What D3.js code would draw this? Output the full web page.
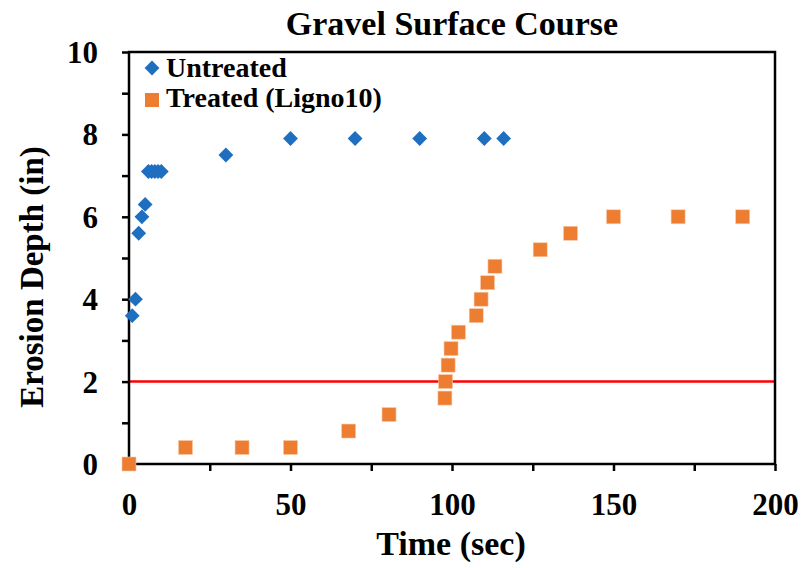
<!DOCTYPE html>
<html><head><meta charset="utf-8">
<script src="https://cdn.jsdelivr.net/npm/d3@7"></script>
<style>body{margin:0;background:#fff}svg{display:block}text{font-family:"Liberation Serif","Times New Roman",serif;font-weight:bold;fill:#000}</style>
</head><body><svg id="c" width="804" height="568"></svg>
<script>
const untreatedTime = [1,2,3,4,5,6,7,8,9,10,30,50,70,90,110,116];
const untreatedDepth = [3.6,4.0,5.6,6.0,6.3,7.1,7.1,7.1,7.1,7.1,7.5,7.9,7.9,7.9,7.9,7.9];
const treatedTime = [0,17.5,35,50,68,80.5,97.8,98,98.8,99.7,102,107.5,109,111,113.3,127.3,136.7,150,170,190];
const treatedDepth = [0,0.4,0.4,0.4,0.8,1.2,1.6,2.0,2.4,2.8,3.2,3.6,4.0,4.4,4.8,5.2,5.6,6.0,6.0,6.0];
const xTicks = [0,50,100,150,200];
const yTicks = [0,2,4,6,8,10];
const threshold = 2;
const seriesNames = ["Untreated","Treated (Ligno10)"];
const title = "Gravel Surface Course";
const xLabel = "Time (sec)";
const yLabel = "Erosion Depth (in)";

const svg = d3.select("#c");
const L=129,R=775,T=52,B=464;
const x = d3.scaleLinear().domain([0,200]).range([L,R]);
const y = d3.scaleLinear().domain([0,10]).range([B,T]);

// threshold line
svg.append("line").attr("x1",L).attr("x2",R).attr("y1",y(threshold)).attr("y2",y(threshold))
  .attr("stroke","#FF0000").attr("stroke-width",2.5);

// axes
const xAxis = d3.axisBottom(x).tickValues(d3.range(0,201,25)).tickSize(7)
  .tickFormat(d=>xTicks.includes(d)?d:"");
const gx = svg.append("g").attr("transform",`translate(0,${B})`).call(xAxis);
gx.select(".domain").remove();
gx.selectAll("line").attr("stroke","#000").attr("stroke-width",2.5);
gx.selectAll("text").attr("dy",0).attr("y",51).style("font-size","31px").style("font-family","Liberation Serif").style("font-weight","bold");

const yAxis = d3.axisLeft(y).tickValues(d3.range(0,11,1)).tickSize(7)
  .tickFormat(d=>yTicks.includes(d)?d:"");
const gy = svg.append("g").attr("transform",`translate(${L},0)`).call(yAxis);
gy.select(".domain").remove();
gy.selectAll("line").attr("stroke","#000").attr("stroke-width",2.5);
gy.selectAll("text").attr("x",-31).attr("dy","0.34em").style("font-size","31px").style("font-family","Liberation Serif").style("font-weight","bold");

// frame
svg.append("rect").attr("x",L).attr("y",T).attr("width",R-L).attr("height",B-T)
  .attr("fill","none").attr("stroke","#000").attr("stroke-width",2.5);

// markers
svg.append("g").selectAll("path").data(untreatedTime.map((t,i)=>[t,untreatedDepth[i]])).join("path")
  .attr("d",d3.symbol().type(d3.symbolSquare).size(110))
  .attr("transform",d=>`translate(${x(d[0])},${y(d[1])}) rotate(45)`)
  .attr("fill","#1F6FC0");
svg.append("g").selectAll("rect").data(treatedTime.map((t,i)=>[t,treatedDepth[i]])).join("rect")
  .attr("x",d=>x(d[0])-7).attr("y",d=>y(d[1])-7).attr("width",14).attr("height",14)
  .attr("fill","#ED7D31").attr("stroke","#F8C9A8").attr("stroke-width",0.6);

// legend
svg.append("path").attr("d",d3.symbol().type(d3.symbolSquare).size(110)())
  .attr("transform","translate(152,68) rotate(45)").attr("fill","#1F6FC0");
svg.append("rect").attr("x",145).attr("y",93).attr("width",14).attr("height",14).attr("fill","#ED7D31");
svg.append("text").attr("x",166).attr("y",77).style("font-size","28px").text(seriesNames[0]);
svg.append("text").attr("x",166).attr("y",107).style("font-size","28px").text(seriesNames[1]);

// titles
svg.append("text").attr("x",452).attr("y",35).attr("text-anchor","middle").style("font-size","34px").text(title);
svg.append("text").attr("x",451).attr("y",555).attr("text-anchor","middle").style("font-size","34px").text(xLabel);
svg.append("text").attr("transform","translate(43,277) rotate(-90)").attr("text-anchor","middle").style("font-size","33px").text(yLabel);
</script></body></html>
